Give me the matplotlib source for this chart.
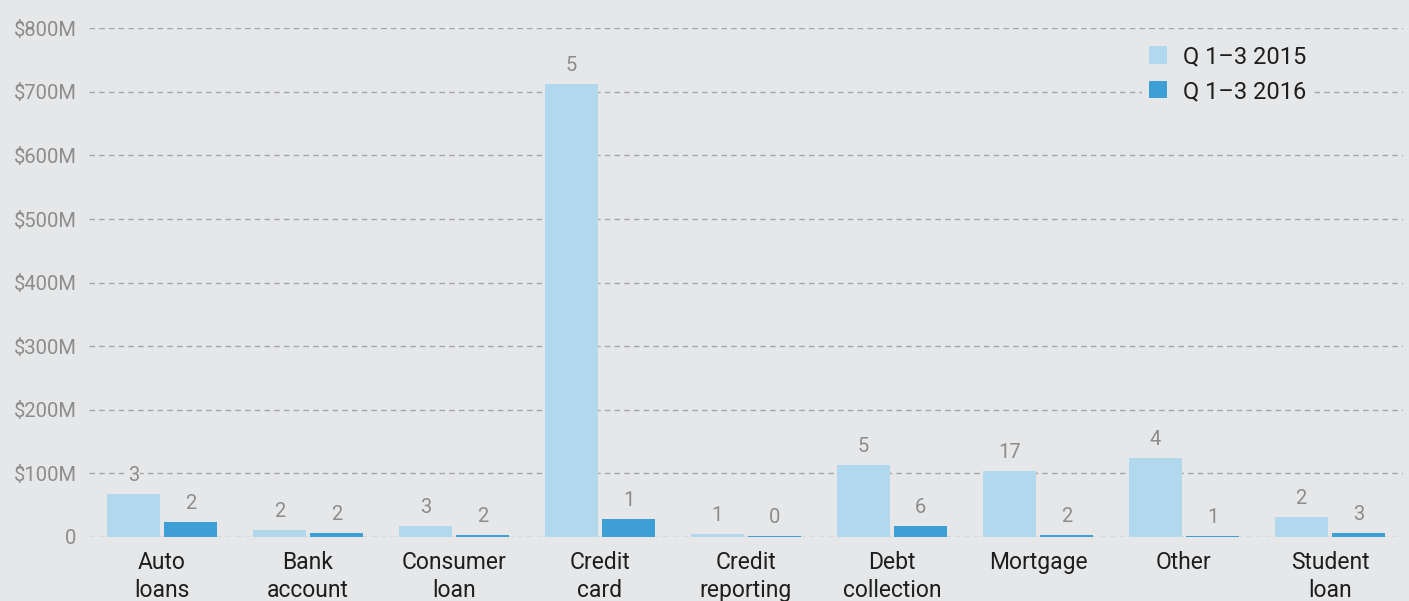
import numpy as np
import matplotlib.pyplot as plt

# ---- data ----
categories = ["Auto\nloans", "Bank\naccount", "Consumer\nloan", "Credit\ncard",
              "Credit\nreporting", "Debt\ncollection", "Mortgage", "Other",
              "Student\nloan"]
vals_2015 = [68, 11, 17, 712, 5, 113, 104, 124, 31]   # $M
vals_2016 = [24, 6, 3, 28, 1, 17, 3, 1, 6]            # $M
counts_2015 = [3, 2, 3, 5, 1, 5, 17, 4, 2]
counts_2016 = [2, 2, 2, 1, 0, 6, 2, 1, 3]
yticks = [0, 100, 200, 300, 400, 500, 600, 700, 800]
ytick_labels = ["0"] + [f"${v}M" for v in yticks[1:]]
series = ["Q 1–3 2015", "Q 1–3 2016"]

BG = "#e6e7e9"
C15 = "#b1d8ec"
C16 = "#3d9fd3"
GREY = "#8c8c8c"
GRID = "#a5a5a5"

plt.rcParams["font.family"] = ["Roboto", "DejaVu Sans"]

fig = plt.figure(figsize=(14.09, 6.01), dpi=100, facecolor=BG)
ax = fig.add_axes([0.0632, 0.1065, 0.9325, 0.8465], facecolor=BG)

x = np.arange(len(categories))
w = 0.363
off = 0.197
b15 = ax.bar(x - off, vals_2015, w, color=C15, label=series[0], zorder=2)
b16 = ax.bar(x + off, vals_2016, w, color=C16, label=series[1], zorder=2)

# count labels above bars (knock out the gridline behind)
for bars, cnts in [(b15, counts_2015), (b16, counts_2016)]:
    for r, c in zip(bars, cnts):
        ax.annotate(str(c), (r.get_x() + r.get_width()/2, r.get_height()),
                    xytext=(0, 6.5), textcoords="offset points",
                    ha="center", va="bottom", fontsize=14.5, color=GREY,
                    zorder=4, bbox=dict(fc=BG, ec="none", pad=1.0))

ax.set_xlim(-0.5, len(categories) - 0.5)
ax.set_ylim(0, 800)
ax.set_yticks(yticks)
ax.set_yticklabels(ytick_labels, fontsize=14.5, color=GREY)
ax.set_xticks(x)
ax.set_xticklabels(categories, fontsize=16.5, color="#1e1e1e", linespacing=1.3)
ax.tick_params(axis="both", length=0)
ax.tick_params(axis="y", pad=9)
ax.tick_params(axis="x", pad=10)
for s in ax.spines.values():
    s.set_visible(False)
ax.yaxis.grid(True, color=GRID, lw=1, ls=(0, (4, 3)), zorder=1)
ax.set_axisbelow(True)

leg = ax.legend(loc="upper right", bbox_to_anchor=(0.941, 1.004), fontsize=17,
                frameon=True, facecolor=BG, edgecolor="none", framealpha=1,
                handlelength=0.75, handleheight=0.75, handletextpad=0.7,
                labelspacing=0.5, borderpad=0.3)
for t in leg.get_texts():
    t.set_color("#1e1e1e")

fig.savefig("out.png", dpi=100, facecolor=BG)
